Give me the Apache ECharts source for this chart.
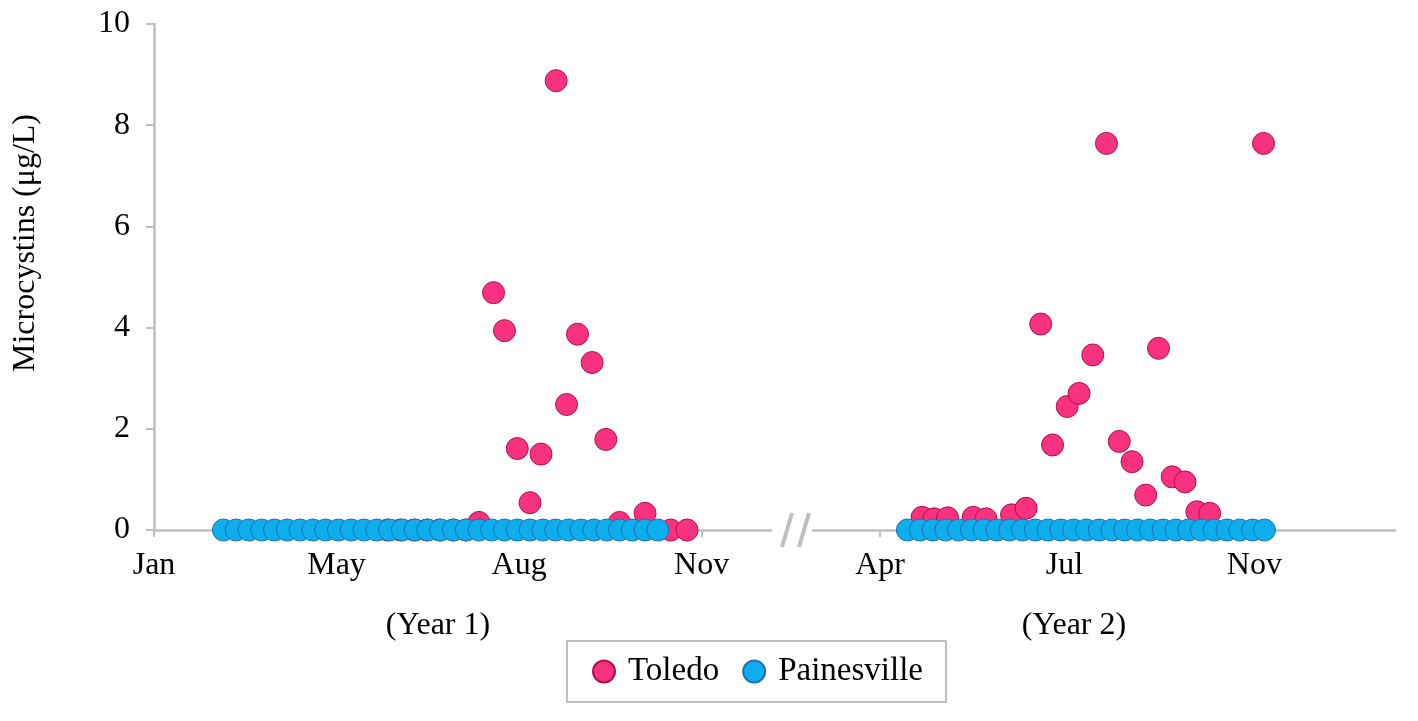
<!DOCTYPE html>
<html>
<head>
<meta charset="utf-8">
<script src="https://cdn.jsdelivr.net/npm/echarts@6/dist/echarts.min.js"></script>
<style>
html,body{margin:0;padding:0;background:#fff;}
#chart{width:1418px;height:721px;}
</style>
</head>
<body>
<div id="chart"></div>
<script>
// ---- Data (x = days along each year's axis; y = microcystins, µg/L) ----
const year1TickDays = [0, 100, 200, 300];
const year1TickNames = ['Jan', 'May', 'Aug', 'Nov'];
const year2TickDays = [0, 101, 205];
const year2TickNames = ['Apr', 'Jul', 'Nov'];

const toledoY1Days = [128, 135, 142.5, 149.5, 156.5, 164, 171, 178, 186, 192, 199, 206, 212, 220.3, 226, 232, 240, 247.5, 255, 269, 283, 292];
const toledoY1Vals = [0, 0, 0, 0, 0, 0, 0, 0.15, 4.69, 3.94, 1.61, 0.54, 1.50, 8.88, 2.48, 3.87, 3.31, 1.79, 0.15, 0.33, 0, 0];

const painesY1Days = [38, 45, 52, 59, 66, 73, 80, 87, 94, 101, 108, 115, 122, 129, 136, 143, 150, 157, 164, 171, 178, 185, 192, 199, 206, 213, 220, 227, 234, 241, 248, 255, 262, 269, 276];
const painesY1Vals = [0, 0, 0, 0, 0, 0, 0, 0, 0, 0, 0, 0, 0, 0, 0, 0, 0, 0, 0, 0, 0, 0, 0, 0, 0, 0, 0, 0, 0, 0, 0, 0, 0, 0, 0];

const toledoY2Days = [23, 29.5, 37, 51, 58, 72, 80, 88, 94.5, 102.5, 109, 116.5, 124, 131, 138, 145.5, 152.5, 160, 167, 173.5, 180.5, 210];
const toledoY2Vals = [0.25, 0.22, 0.24, 0.25, 0.22, 0.30, 0.43, 4.07, 1.68, 2.44, 2.70, 3.46, 7.64, 1.75, 1.35, 0.69, 3.59, 1.05, 0.95, 0.36, 0.33, 7.64];

const painesY2Days = [15, 22, 29, 36, 43, 50, 57, 64, 71, 78, 85, 92, 99, 106, 113, 120, 127, 134, 141, 148, 155, 162, 169, 176, 183, 190, 197, 204, 210.5];
const painesY2Vals = [0, 0, 0, 0, 0, 0, 0, 0, 0, 0, 0, 0, 0, 0, 0, 0, 0, 0, 0, 0, 0, 0, 0, 0, 0, 0, 0, 0, 0];

const yTicks = [0, 2, 4, 6, 8, 10];

// ---- Styling ----
const FONT = 'Liberation Serif';
const AXIS_GRAY = '#BFBFBF';
const pinkStyle = { color: '#F8327F', borderColor: '#B0104C', borderWidth: 1, opacity: 1 };
const blueStyle = { color: '#0EADEE', borderColor: '#1D72B4', borderWidth: 1, opacity: 1 };

function pairs(xs, ys) { return xs.map((x, i) => [x, ys[i]]); }

const chart = echarts.init(document.getElementById('chart'), null, { renderer: 'canvas' });

function xAxisFor(gridIndex, min, max, days, names) {
  return {
    type: 'value', gridIndex: gridIndex, min: min, max: max,
    splitLine: { show: false },
    axisLine: { show: true, onZero: false, lineStyle: { color: AXIS_GRAY, width: 2.5 } },
    axisTick: { show: true, length: 7, lineStyle: { color: AXIS_GRAY, width: 2 }, customValues: days },
    axisLabel: {
      show: true, customValues: days, margin: 20,
      color: '#000', fontFamily: FONT, fontSize: 32,
      formatter: function (v) { const i = days.indexOf(v); return i >= 0 ? names[i] : ''; }
    }
  };
}

function scatter(name, idx, style, xs, ys) {
  return {
    name: name, type: 'scatter', xAxisIndex: idx, yAxisIndex: idx,
    symbol: 'circle', symbolSize: 22, itemStyle: style,
    emphasis: { disabled: true }, data: pairs(xs, ys)
  };
}

const option = {
  backgroundColor: '#fff',
  animation: false,
  grid: [
    { left: 154, right: 1418 - 771, top: 24, bottom: 191, containLabel: false },
    { left: 813, right: 1418 - 1395, top: 24, bottom: 191, containLabel: false }
  ],
  xAxis: [
    xAxisFor(0, 0, 338, year1TickDays, year1TickNames),
    xAxisFor(1, -36.7, 282, year2TickDays, year2TickNames)
  ],
  yAxis: [
    {
      type: 'value', gridIndex: 0, min: 0, max: 10, interval: 2,
      splitLine: { show: false },
      axisLine: { show: true, lineStyle: { color: AXIS_GRAY, width: 2.5 } },
      axisTick: { show: true, length: 8, lineStyle: { color: AXIS_GRAY, width: 2 } },
      axisLabel: { color: '#000', fontFamily: FONT, fontSize: 32, margin: 24,
        formatter: function (v) { return yTicks.indexOf(v) >= 0 ? String(v) : ''; } }
    },
    {
      type: 'value', gridIndex: 1, min: 0, max: 10, interval: 2, show: false,
      splitLine: { show: false }
    }
  ],
  legend: {
    data: ['Toledo', 'Painesville'],
    left: 567, top: 641,
    orient: 'horizontal',
    icon: 'circle',
    itemWidth: 22, itemHeight: 22, itemGap: 23,
    padding: [14, 23, 14, 25],
    borderColor: AXIS_GRAY, borderWidth: 2,
    textStyle: { color: '#000', fontFamily: FONT, fontSize: 33, padding: [0, 0, 0, 8] }
  },
  series: [
    scatter('Toledo', 0, pinkStyle, toledoY1Days, toledoY1Vals),
    scatter('Toledo', 1, pinkStyle, toledoY2Days, toledoY2Vals),
    scatter('Painesville', 0, blueStyle, painesY1Days, painesY1Vals),
    scatter('Painesville', 1, blueStyle, painesY2Days, painesY2Vals)
  ],
  graphic: [
    { type: 'text', left: 10, top: 114, rotation: Math.PI / 2,
      style: { text: 'Microcystins (μg/L)', fill: '#000', font: '32px "Liberation Serif"' } },
    { type: 'text', x: 438, y: 626,
      style: { text: '(Year 1)', fill: '#000', font: '32px "Liberation Serif"', textAlign: 'center', textVerticalAlign: 'middle' } },
    { type: 'text', x: 1074, y: 626,
      style: { text: '(Year 2)', fill: '#000', font: '32px "Liberation Serif"', textAlign: 'center', textVerticalAlign: 'middle' } },
    { type: 'line', shape: { x1: 792, y1: 513, x2: 782, y2: 547 }, style: { stroke: AXIS_GRAY, lineWidth: 4 } },
    { type: 'line', shape: { x1: 809, y1: 513, x2: 799, y2: 547 }, style: { stroke: AXIS_GRAY, lineWidth: 4 } }
  ]
};

chart.setOption(option);
</script>
</body>
</html>
